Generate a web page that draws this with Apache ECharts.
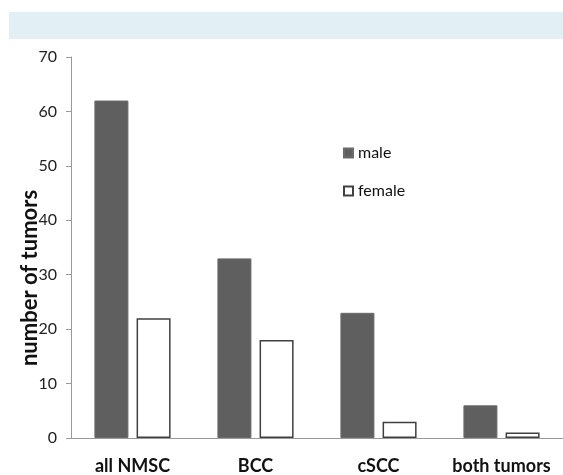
<!DOCTYPE html>
<html>
<head>
<meta charset="utf-8">
<script src="https://cdn.jsdelivr.net/npm/echarts@6/dist/echarts.min.js"></script>
<style>
html,body{margin:0;padding:0;background:#fff;}
#c{width:563px;height:475px;}
</style>
</head>
<body>
<div id="c"></div>
<script>
var categories = ['all NMSC', 'BCC', 'cSCC', 'both tumors'];
var maleValues = [62, 33, 23, 6];
var femaleValues = [22, 18, 3, 1];
var seriesNames = ['male', 'female'];
var yTitle = 'number of tumors';

var FONT = 'Lato, "Open Sans", sans-serif';
var chart = echarts.init(document.getElementById('c'), null, {renderer: 'canvas'});
chart.setOption({
  animation: false,
  backgroundColor: '#fff',
  textStyle: {fontFamily: FONT},
  graphic: [
    {type: 'rect', left: 9, top: 12, shape: {width: 554, height: 27}, style: {fill: '#e2f0f6'}, z: -1},
    {type: 'text', x: 30, y: 278, rotation: Math.PI / 2,
     style: {text: yTitle, font: 'bold 22px ' + FONT, fill: '#111', align: 'center', verticalAlign: 'middle'}}
  ],
  legend: {
    orient: 'vertical',
    left: 343, top: 145,
    padding: 0,
    itemWidth: 9, itemHeight: 9,
    itemGap: 22,
    icon: 'rect',
    textStyle: {fontSize: 16, color: '#111', fontFamily: FONT},
    data: seriesNames
  },
  grid: {left: 71, top: 57, width: 502, height: 382, containLabel: false},
  xAxis: {
    type: 'category',
    data: categories,
    axisLine: {lineStyle: {color: '#999', width: 1}},
    axisTick: {show: false},
    axisLabel: {interval: 0, fontSize: 18, fontWeight: 'bold', color: '#111', margin: 19, fontFamily: FONT}
  },
  yAxis: {
    type: 'value',
    min: 0, max: 70, interval: 10,
    axisLine: {show: true, lineStyle: {color: '#999', width: 1}},
    axisTick: {show: true, inside: false, length: 5, lineStyle: {color: '#999'}},
    splitLine: {show: false},
    axisLabel: {fontSize: 16, color: '#222', margin: 14, fontFamily: FONT}
  },
  series: [
    {name: seriesNames[0], type: 'bar', data: maleValues, barWidth: 34, barGap: '24%',
     itemStyle: {color: '#5f5f5f', borderColor: '#6a6a6a', borderWidth: 1}},
    {name: seriesNames[1], type: 'bar', data: femaleValues, barWidth: 34,
     itemStyle: {color: '#ffffff', borderColor: '#404040', borderWidth: 1.5}}
  ]
});
</script>
</body>
</html>
